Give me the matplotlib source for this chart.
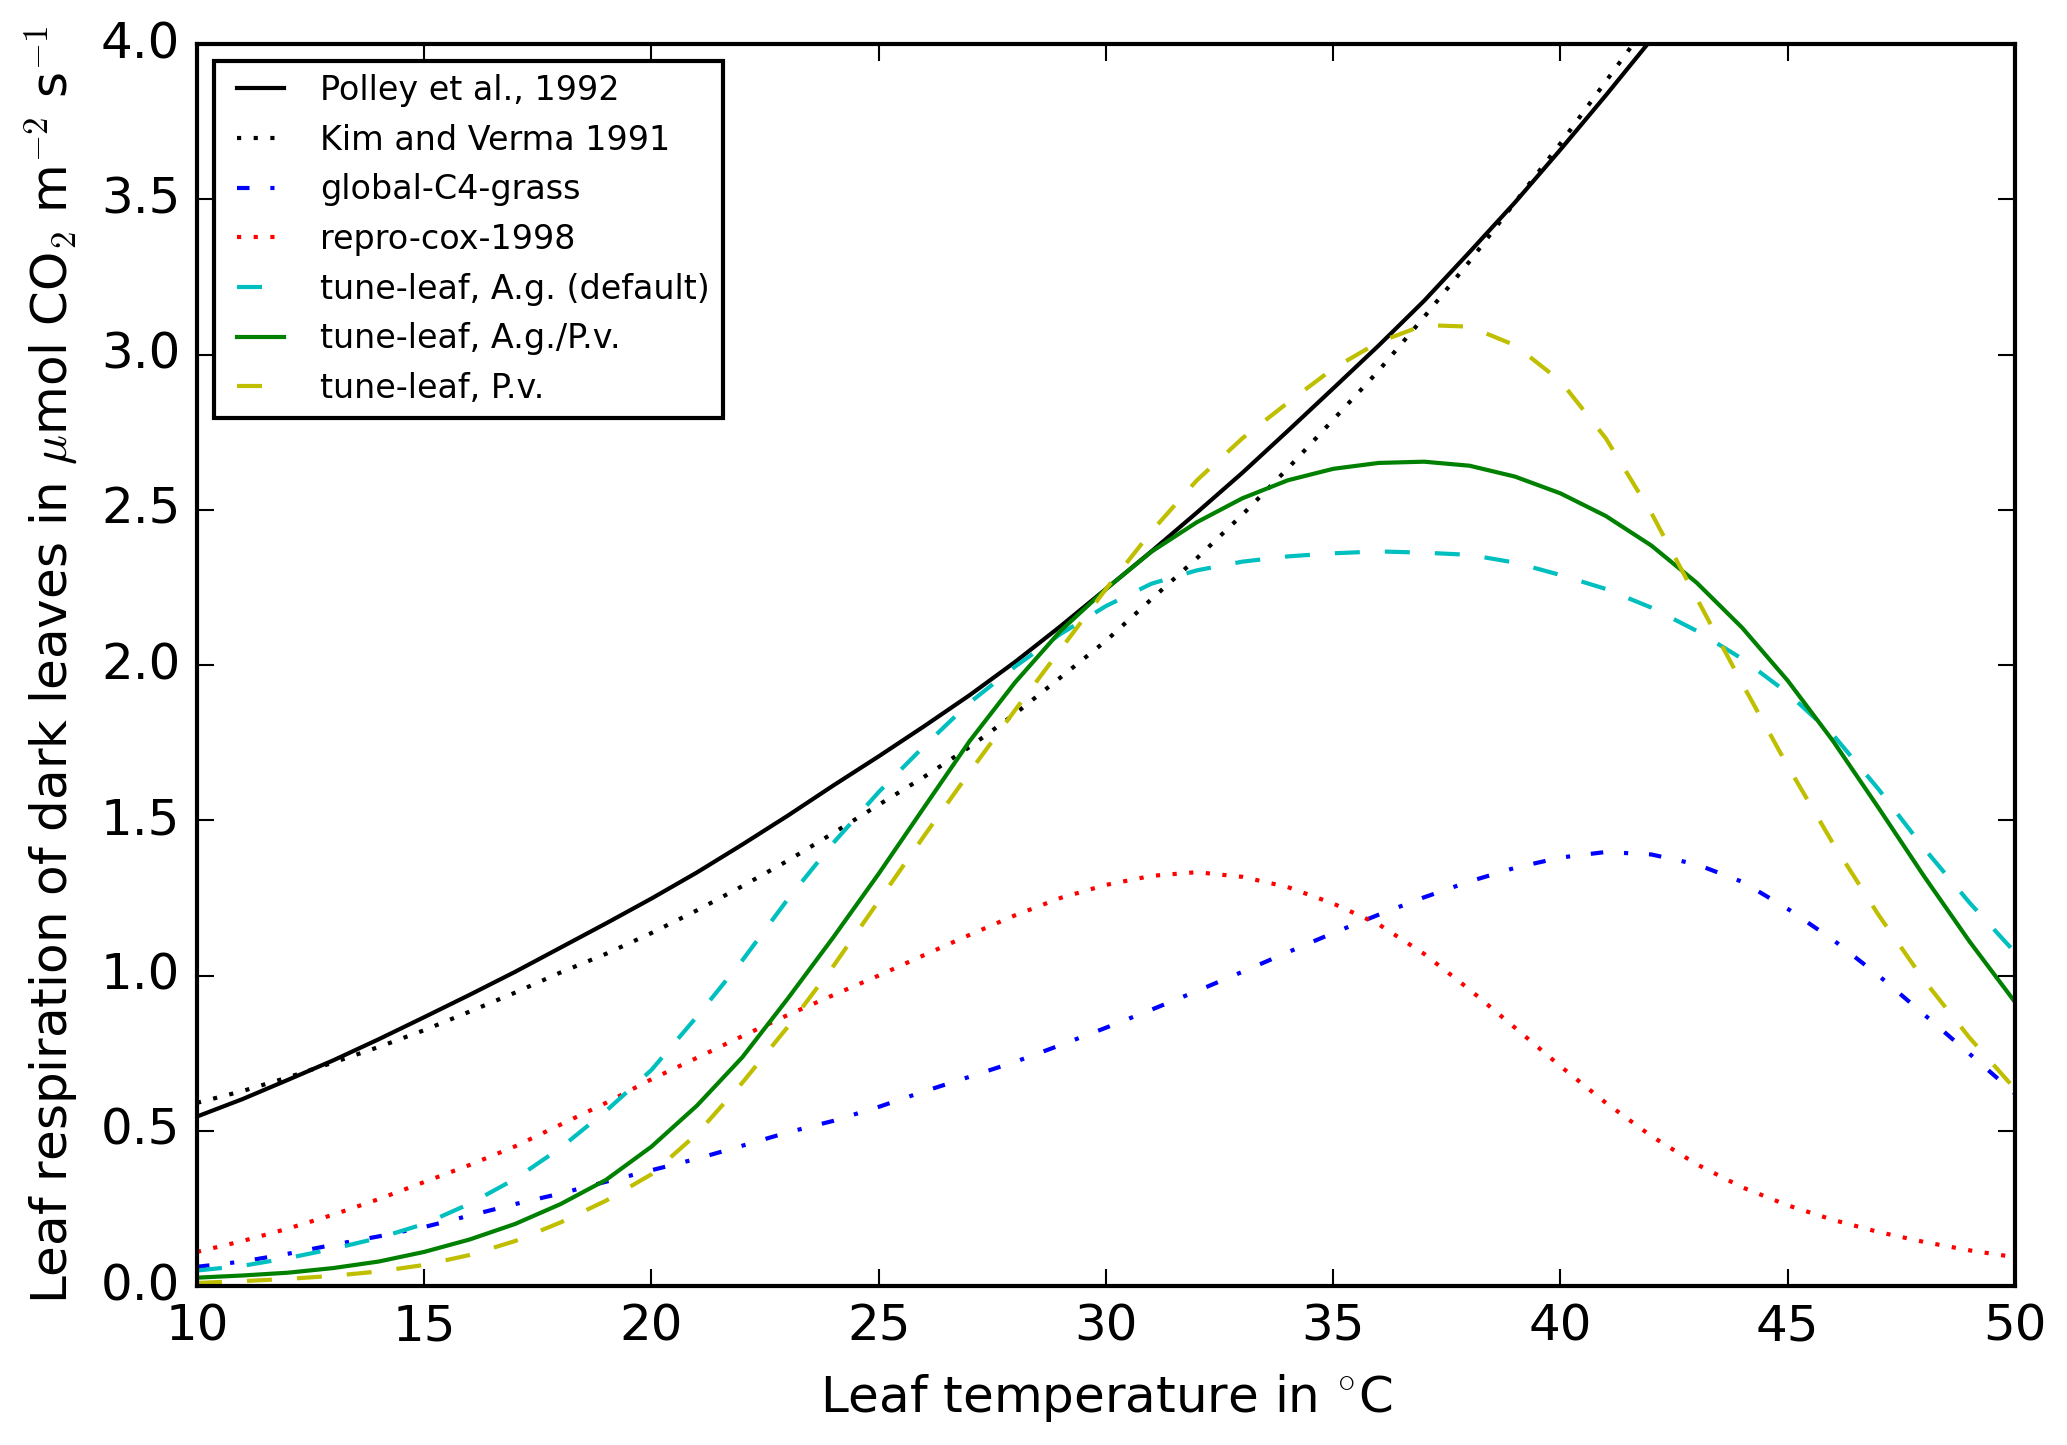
import matplotlib
matplotlib.use("Agg")
import matplotlib.pyplot as plt

# leaf temperature (degC), one value per degree
temp = list(range(10, 51))

polley = [0.546, 0.602, 0.664, 0.727, 0.795, 0.866, 0.938, 1.012, 1.09, 1.168,
          1.248, 1.332, 1.422, 1.515, 1.612, 1.706, 1.803, 1.903, 2.01, 2.125,
          2.245, 2.366, 2.491, 2.619, 2.754, 2.891, 3.029, 3.173, 3.33, 3.49,
          3.66, 3.835, 4.015]
kim_verma = [0.59, 0.628, 0.672, 0.72, 0.77, 0.824, 0.884, 0.945, 1.01, 1.07,
             1.137, 1.21, 1.288, 1.37, 1.459, 1.55, 1.64, 1.736, 1.843, 1.96,
             2.078, 2.212, 2.344, 2.484, 2.633, 2.79, 2.948, 3.121, 3.3, 3.49,
             3.68, 3.88, 4.08]
c4_grass = [0.062, 0.079, 0.104, 0.133, 0.16, 0.19, 0.227, 0.264, 0.298, 0.336,
            0.373, 0.41, 0.452, 0.495, 0.532, 0.577, 0.627, 0.674, 0.722, 0.776,
            0.832, 0.89, 0.95, 1.012, 1.075, 1.137, 1.196, 1.252, 1.303, 1.347,
            1.38, 1.398, 1.39, 1.358, 1.302, 1.215, 1.115, 1.0, 0.875, 0.748, 0.62]
cox_1998 = [0.11, 0.145, 0.185, 0.23, 0.28, 0.335, 0.39, 0.45, 0.52, 0.59,
            0.666, 0.735, 0.805, 0.873, 0.937, 1.0, 1.066, 1.131, 1.194, 1.25,
            1.292, 1.321, 1.333, 1.318, 1.285, 1.232, 1.165, 1.07, 0.955, 0.832,
            0.708, 0.59, 0.483, 0.392, 0.318, 0.26, 0.213, 0.174, 0.142, 0.115, 0.093]
leaf_ag = [0.05, 0.065, 0.09, 0.12, 0.155, 0.2, 0.265, 0.345, 0.445, 0.564,
           0.696, 0.868, 1.049, 1.246, 1.427, 1.591, 1.739, 1.879, 1.995, 2.1,
           2.19, 2.262, 2.305, 2.333, 2.35, 2.36, 2.366, 2.362, 2.355, 2.33,
           2.29, 2.245, 2.185, 2.11, 2.02, 1.91, 1.775, 1.6, 1.41, 1.235, 1.075]
leaf_agpv = [0.027, 0.034, 0.043, 0.058, 0.079, 0.11, 0.15, 0.2, 0.264, 0.342,
             0.449, 0.581, 0.737, 0.926, 1.123, 1.328, 1.542, 1.755, 1.944, 2.11,
             2.245, 2.365, 2.46, 2.537, 2.595, 2.632, 2.651, 2.655, 2.642, 2.607,
             2.553, 2.48, 2.385, 2.265, 2.12, 1.95, 1.755, 1.54, 1.32, 1.11, 0.915]
leaf_pv = [0.01, 0.016, 0.023, 0.033, 0.047, 0.068, 0.1, 0.145, 0.205, 0.275,
           0.36, 0.49, 0.655, 0.835, 1.03, 1.24, 1.45, 1.655, 1.855, 2.05,
           2.245, 2.43, 2.595, 2.73, 2.845, 2.955, 3.04, 3.095, 3.09, 3.03,
           2.915, 2.73, 2.49, 2.215, 1.94, 1.675, 1.425, 1.195, 0.985, 0.8, 0.635]

plt.style.use('classic')

fig = plt.figure(figsize=(2067 / 300, 1445 / 300), dpi=300, facecolor='white')
ax = fig.add_axes([0.0953, 0.110, 0.8795, 0.8595])

ax.plot(temp[:len(polley)], polley, 'k-', label='Polley et al., 1992')
ax.plot(temp[:len(kim_verma)], kim_verma, 'k:', label='Kim and Verma 1991')
ax.plot(temp, c4_grass, 'b-.', label='global-C4-grass')
ax.plot(temp, cox_1998, 'r:', label='repro-cox-1998')
ax.plot(temp, leaf_ag, 'c--', label='tune-leaf, A.g. (default)')
ax.plot(temp, leaf_agpv, 'g-', label='tune-leaf, A.g./P.v.')
ax.plot(temp, leaf_pv, 'y--', label='tune-leaf, P.v.')

ax.set_xlim(10, 50)
ax.set_ylim(0, 4)
ax.set_xlabel(r'Leaf temperature in $^{\circ}$C')
ax.set_ylabel(r'Leaf respiration of dark leaves in $\mu$mol CO$_2$ m$^{-2}$ s$^{-1}$')

ax.legend(loc='upper left', fontsize=8)

fig.savefig('out.png', dpi=300, facecolor='white')
